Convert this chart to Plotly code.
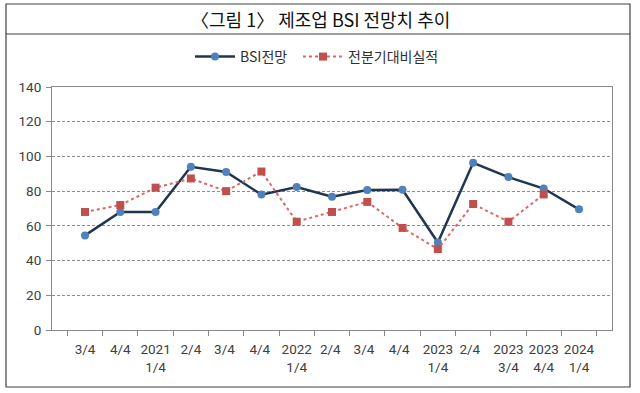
import plotly.graph_objects as go

categories = ["3/4", "4/4", "2021<br>1/4", "2/4", "3/4 ", "4/4 ", "2022<br>1/4", "2/4 ",
              "3/4  ", "4/4  ", "2023<br>1/4", "2/4  ", "2023<br>3/4", "2023<br>4/4", "2024<br>1/4"]
bsi_outlook = [54.5, 68, 68, 94, 91, 78, 82.4, 76.8, 80.6, 80.8, 50.4, 96.3, 88.1, 81.5, 69.5]
actual_vs_prev = [68, 72, 82, 87.3, 80, 91.3, 62.4, 68, 73.8, 58.8, 46.6, 72.6, 62.4, 78.1, None]

FONT = "Noto Sans CJK KR"
TICKFONT = "Roboto"
W, H = 640, 393
L, R, T, B = 52, 28, 87, 63
pw, ph = W - L - R, H - T - B

def px(x):
    return (x - L) / pw

def py(y):
    return (H - B - y) / ph

fig = go.Figure()
fig.add_trace(go.Scatter(
    x=categories, y=bsi_outlook, name="BSI전망", mode="lines+markers",
    line=dict(color="#1F3550", width=2.5),
    marker=dict(symbol="circle", size=8, color="#4F81BD"),
    legend="legend",
))
fig.add_trace(go.Scatter(
    x=categories, y=actual_vs_prev, name="전분기대비실적", mode="lines+markers",
    line=dict(color="#E06666", width=2, dash="dot"),
    marker=dict(symbol="square", size=8, color="#C0504D"),
    legend="legend2",
))

legend_common = dict(orientation="h", xanchor="left", y=py(57), yanchor="middle",
                     font=dict(family=FONT, size=14, color="#303030"),
                     itemwidth=40, bgcolor="rgba(0,0,0,0)")

fig.update_layout(
    width=W, height=H,
    margin=dict(l=L, r=R, t=T, b=B),
    paper_bgcolor="white", plot_bgcolor="white",
    font=dict(family=FONT, size=12, color="#404040"),
    showlegend=True,
    legend=dict(x=px(190), **legend_common),
    legend2=dict(x=px(298), **legend_common),
    shapes=[
        dict(type="rect", xref="paper", yref="paper", x0=px(6), x1=px(630), y0=py(387), y1=py(4),
             line=dict(color="#404040", width=1.2)),
        dict(type="line", xref="paper", yref="paper", x0=px(6), x1=px(630), y0=py(34), y1=py(34),
             line=dict(color="#404040", width=1.2)),
    ],
    annotations=[
        dict(text="〈그림 1〉 제조업 BSI 전망치 추이", xref="paper", yref="paper",
             x=px(320), y=py(19), xanchor="center", yanchor="middle", showarrow=False,
             font=dict(family=FONT, size=18, color="#111111")),
    ],
)
fig.update_xaxes(
    type="category", tickson="boundaries", ticks="outside", ticklen=5, tickcolor="#888888",
    showline=True, linecolor="#888888", linewidth=1, mirror=True,
    showgrid=False, tickfont=dict(family=TICKFONT, size=13.5, color="#404040"), tickangle=0,
    ticklabelstandoff=7,
)
fig.update_yaxes(
    range=[0, 140], dtick=20, ticks="outside", ticklen=5, tickcolor="#888888",
    showline=True, linecolor="#888888", linewidth=1, mirror=True,
    showgrid=True, gridcolor="#8c8c8c", gridwidth=1, griddash="3px,2px",
    zeroline=False, tickfont=dict(family=TICKFONT, size=13.5, color="#404040"),
    ticklabelstandoff=2,
)

fig.write_html("out.html", config={"displayModeBar": False},
               post_script="document.body.style.margin='0';document.body.style.overflow='hidden';")
